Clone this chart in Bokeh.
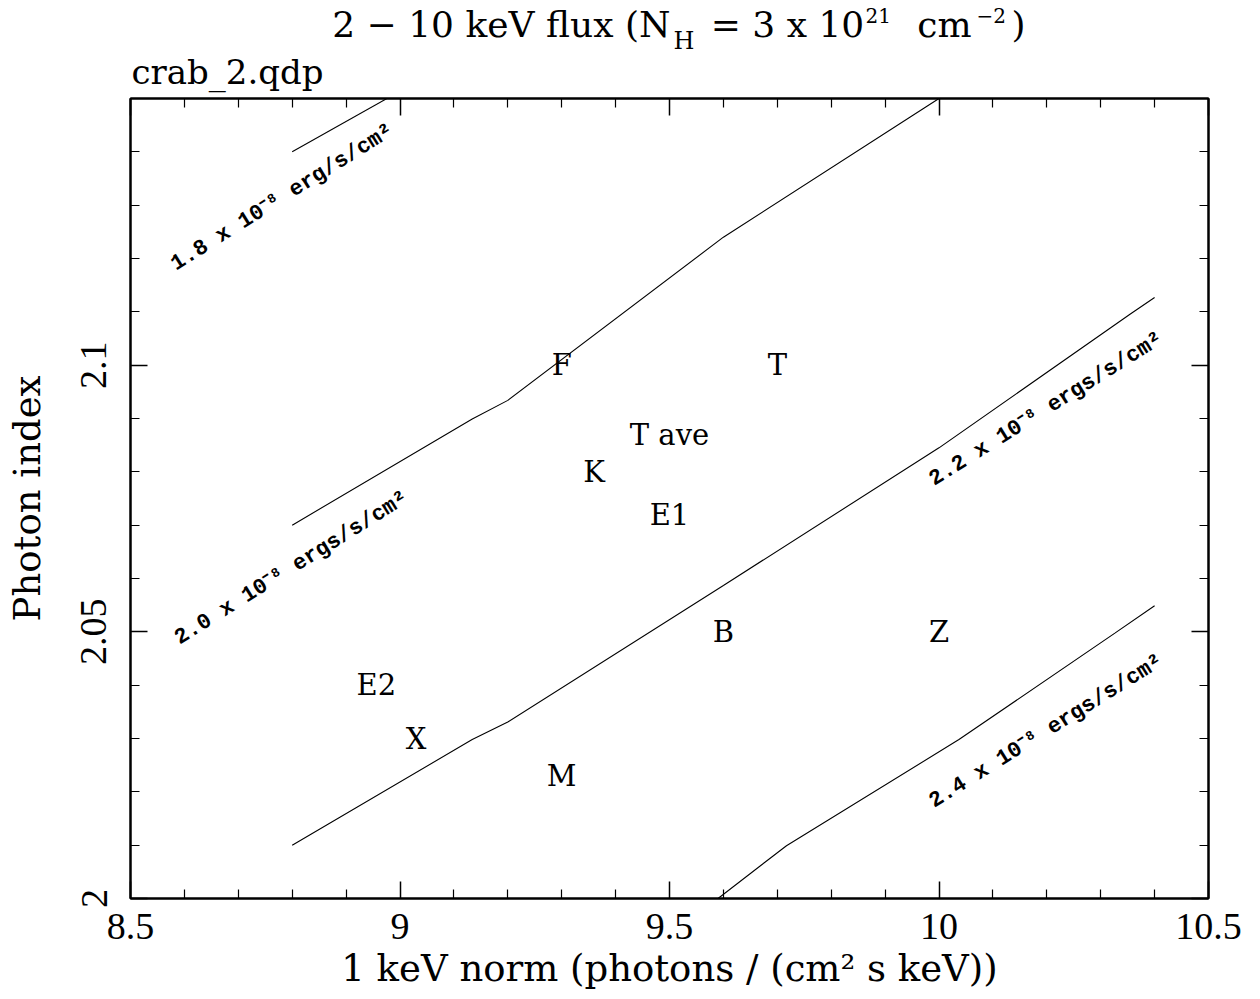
from bokeh.plotting import figure
from bokeh.layouts import column
from bokeh.models import Range1d, LinearAxis, FixedTicker, Label, ColumnDataSource, CustomJSTickFormatter
from bokeh.core.properties import value
from bokeh.embed import file_html
from bokeh.resources import INLINE

# ---------------- data ----------------
x_ticks = [8.5, 9.0, 9.5, 10.0, 10.5]
x_tick_labels = ["8.5", "9", "9.5", "10", "10.5"]
x_minor = [8.6, 8.7, 8.8, 8.9, 9.1, 9.2, 9.3, 9.4, 9.6, 9.7, 9.8, 9.9, 10.1, 10.2, 10.3, 10.4]
y_ticks = [2.0, 2.05, 2.1]
y_tick_labels = ["2", "2.05", "2.1"]
y_minor = [2.01, 2.02, 2.03, 2.04, 2.06, 2.07, 2.08, 2.09, 2.11, 2.12, 2.13, 2.14]

# flux contours (2-10 keV)
c18_x = [8.8, 9.134]
c18_y = [2.14, 2.159]
c20_x = [8.8, 9.134, 9.2, 9.6, 10.0]
c20_y = [2.07, 2.0899, 2.0934, 2.124, 2.15]
c22_x = [8.8, 9.134, 9.2, 9.6, 10.0, 10.355, 10.4]
c22_y = [2.01, 2.0298, 2.0331, 2.0587, 2.0845, 2.1096, 2.1127]
c24_x = [9.59, 9.717, 10.037, 10.327, 10.4]
c24_y = [2.0, 2.0099, 2.0298, 2.0498, 2.0549]

contour_labels = ["1.8 x 10\u207b\u2078 erg/s/cm\u00b2",
                  "2.0 x 10\u207b\u2078 ergs/s/cm\u00b2",
                  "2.2 x 10\u207b\u2078 ergs/s/cm\u00b2",
                  "2.4 x 10\u207b\u2078 ergs/s/cm\u00b2"]
contour_label_x = [8.782, 8.799, 10.199, 10.199]
contour_label_y = [2.1314, 2.0619, 2.0917, 2.0313]

# observations
obs_names = ["F", "T", "T ave", "K", "E1", "B", "Z", "E2", "X", "M"]
obs_x = [9.3, 9.7, 9.5, 9.36, 9.5, 9.6, 10.0, 8.956, 9.03, 9.3]
obs_y = [2.1, 2.1, 2.087, 2.08, 2.072, 2.05, 2.05, 2.04, 2.03, 2.023]

# ---------------- layout constants ----------------
X0, X1 = 8.5, 10.5
Y0, Y1 = 2.0, 2.15
FRAME_L, FRAME_W, FRAME_H = 130, 1078, 800
BORDER_R = 50
HEAD_H = 94
TOP_GAP = 4

# ---------------- header (titles), coordinates = page pixels ----------------
head = figure(title=None, frame_width=FRAME_W, frame_height=HEAD_H,
              x_range=Range1d(FRAME_L, FRAME_L + FRAME_W), y_range=Range1d(HEAD_H, 0),
              x_axis_type=None, y_axis_type=None,
              output_backend="svg", toolbar_location=None,
              min_border_left=FRAME_L, min_border_right=BORDER_R,
              min_border_top=0, min_border_bottom=0,
              outline_line_color=None, background_fill_color="white",
              border_fill_color="white")
head.xgrid.visible = False
head.ygrid.visible = False


def add_text(txt, px, py, size, align="left", font="DejaVu Serif"):
    # Label baselines come out about 0.3 em lower than asked, so compensate
    head.add_layout(Label(x=px, y=py - 0.3 * size, text=txt, text_font=font,
                          text_font_size=f"{size}px", text_align=align,
                          text_baseline="alphabetic", text_color="black"))


add_text("2 \u2212 10 keV flux (N", 670, 35, 36, "right")
add_text("H", 673, 48, 24, "left")
add_text("= 3 x 10", 787, 35, 36, "center")
add_text("21", 865, 21, 20, "left")
add_text("cm", 944, 35, 36, "center")
add_text("\u22122", 976, 21, 20, "left")
add_text(")", 1011, 35, 36, "left")
add_text("crab_2.qdp", 131, 82, 34, "left")

# ---------------- main plot ----------------
p = figure(title=None, frame_width=FRAME_W, frame_height=FRAME_H,
           x_range=Range1d(X0, X1), y_range=Range1d(Y0, Y1),
           output_backend="svg", toolbar_location=None,
           min_border_left=FRAME_L, min_border_right=BORDER_R, min_border_top=TOP_GAP,
           min_border_bottom=100,
           background_fill_color="white", border_fill_color="white",
           outline_line_color="black", outline_line_width=2)
p.xgrid.visible = False
p.ygrid.visible = False


def label_formatter(tv, tl):
    return CustomJSTickFormatter(args=dict(tv=tv, tl=tl), code="""
        for (let i = 0; i < tv.length; i++) {
            if (Math.abs(tv[i] - tick) < 1e-9) return tl[i];
        }
        return '';
    """)


def style_axis(ax, tv, minor, labels):
    ax.ticker = FixedTicker(ticks=tv, minor_ticks=minor)
    ax.major_tick_in = 17
    ax.major_tick_out = 0
    ax.minor_tick_in = 9
    ax.minor_tick_out = 0
    ax.axis_line_width = 2
    ax.axis_line_color = "black"
    ax.major_tick_line_width = 1.5
    ax.minor_tick_line_width = 1.2
    ax.major_tick_line_color = "black"
    ax.minor_tick_line_color = "black"
    if labels is None:
        ax.formatter = CustomJSTickFormatter(code="return '';")
        ax.major_label_text_font_size = "1px"
        ax.major_label_standoff = 0
    else:
        ax.formatter = label_formatter(tv, labels)
        ax.major_label_text_font = "Liberation Serif"
        ax.major_label_text_font_size = "38px"
        ax.major_label_text_color = "black"


xb = p.xaxis[0]
yl = p.yaxis[0]
style_axis(xb, x_ticks, x_minor, x_tick_labels)
style_axis(yl, y_ticks, y_minor, y_tick_labels)
xb.major_label_standoff = 15
yl.major_label_standoff = 24
yl.major_label_orientation = "vertical"

xb.axis_label = "1 keV norm (photons / (cm\u00b2 s keV))"
yl.axis_label = "Photon index"
for ax in (xb, yl):
    ax.axis_label_text_font = "DejaVu Serif"
    ax.axis_label_text_font_size = "37px"
    ax.axis_label_text_font_style = "normal"
    ax.axis_label_text_color = "black"
xb.axis_label_standoff = 5
yl.axis_label_standoff = 30

xt = LinearAxis()
style_axis(xt, x_ticks, x_minor, None)
p.add_layout(xt, "above")
yr = LinearAxis()
style_axis(yr, y_ticks, y_minor, None)
p.add_layout(yr, "right")

# contours
for cx, cy in ((c18_x, c18_y), (c20_x, c20_y), (c22_x, c22_y), (c24_x, c24_y)):
    p.line(cx, cy, line_color="black", line_width=1.1)

src_cl = ColumnDataSource(dict(x=contour_label_x, y=contour_label_y, t=contour_labels))
p.text(x="x", y="y", text="t", source=src_cl, angle=32, angle_units="deg",
       text_font=value("Liberation Mono"), text_font_style="bold", text_font_size="22px",
       text_align="center", text_baseline="middle", text_color="black")

src_obs = ColumnDataSource(dict(x=obs_x, y=obs_y, t=obs_names))
p.text(x="x", y="y", text="t", source=src_obs,
       text_font=value("DejaVu Serif"), text_font_size="29px",
       text_align="center", text_baseline="middle", text_color="black")

root = column(head, p, spacing=0)
open("out.html", "w").write(file_html(root, INLINE))
